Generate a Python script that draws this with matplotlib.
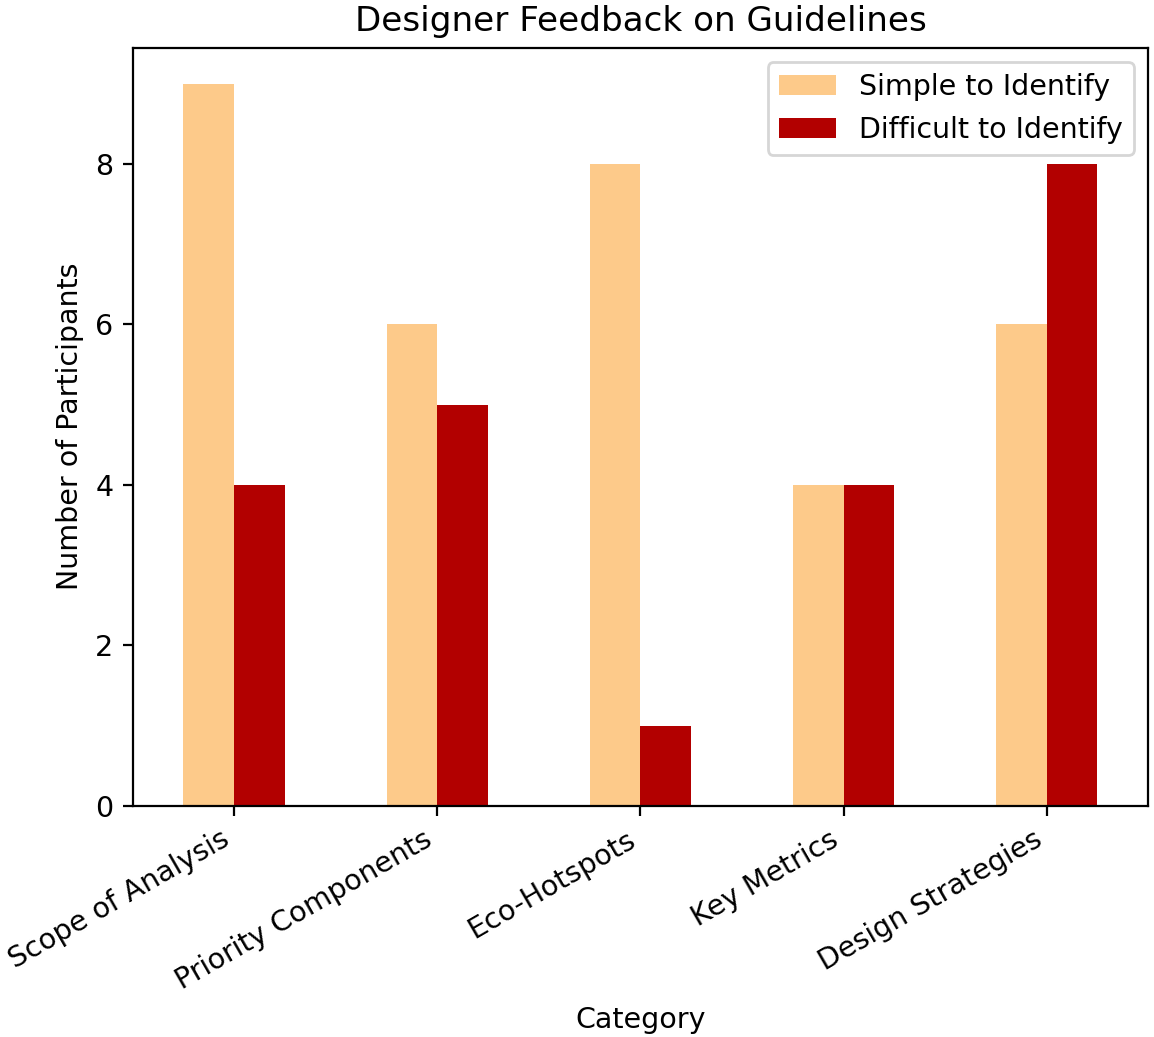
import numpy as np
import matplotlib.pyplot as plt

plt.rcParams['font.size'] = 10.25

# Data
categories = ['Scope of Analysis', 'Priority Components', 'Eco-Hotspots', 'Key Metrics', 'Design Strategies']
simple = [9, 6, 8, 4, 6]
difficult = [4, 5, 1, 4, 8]

x = np.arange(len(categories))
width = 0.25

fig = plt.figure(figsize=(5.77, 5.185), dpi=200)
ax = fig.add_axes([0.115, 0.223, 0.88, 0.731])

ax.bar(x - width / 2, simple, width, color='#fdca8a', label='Simple to Identify')
ax.bar(x + width / 2, difficult, width, color='#b20000', label='Difficult to Identify')

ax.set_xlim(-0.5, len(categories) - 0.5)
ax.set_ylim(0, 9.45)
ax.set_xticks(x)
ax.set_xticklabels(categories, rotation=30, ha='right')
ax.set_xlabel('Category')
ax.set_ylabel('Number of Participants')
ax.set_title('Designer Feedback on Guidelines', fontsize=12.3)
ax.legend(loc='upper right')

fig.savefig('out.png', dpi=200)
